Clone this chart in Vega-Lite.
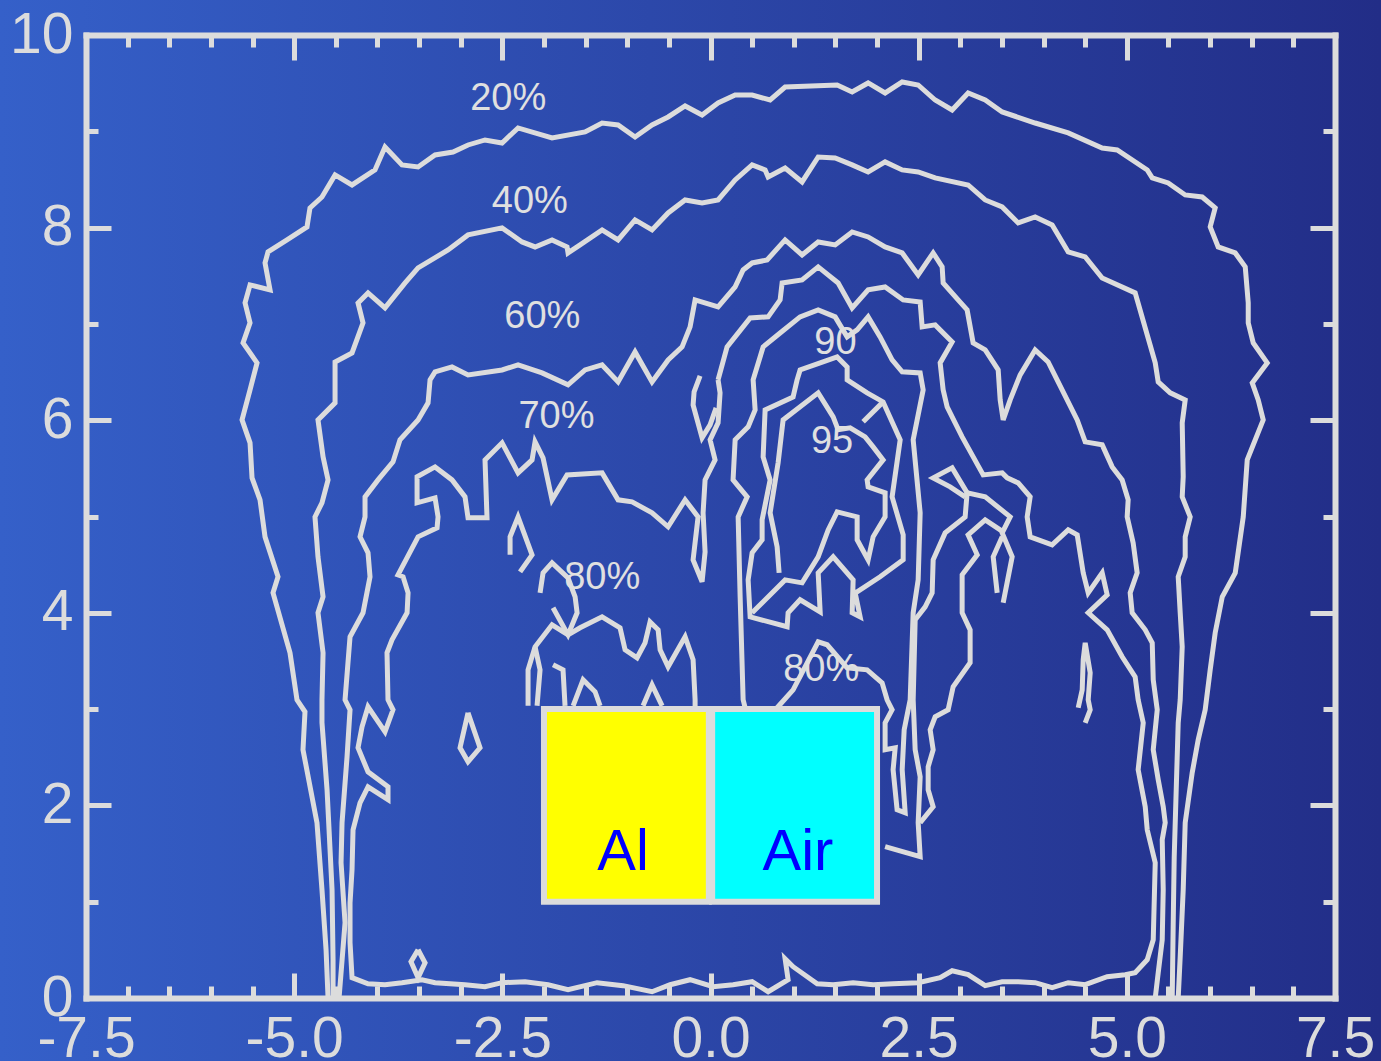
{
"$schema": "https://vega.github.io/schema/vega-lite/v6.json",
"width": 1249, "height": 963,
"autosize": {"type": "none"},
"padding": {"left": 86, "top": 35, "right": 46, "bottom": 63},
"background": "#2b45a8",
"config": {
  "view": {"stroke": null},
  "axis": {"domainColor": "#dcdcdc", "domainWidth": 6, "domainCap": "square", "tickColor": "#dcdcdc", "tickWidth": 5, "labelColor": "#dcdcdc", "labelFont": "Liberation Sans", "labelFontSize": 57, "grid": false, "labelFlush": false, "labelOverlap": false}
},
"datasets": {
  "lines": [
{"c":"p20","x":-4.593,"y":0},{"c":"p20","x":-4.617,"y":0.501},{"c":"p20","x":-4.666,"y":1.124},{"c":"p20","x":-4.726,"y":1.82},{"c":"p20","x":-4.894,"y":2.578},{"c":"p20","x":-4.87,"y":2.972},{"c":"p20","x":-4.966,"y":3.097},{"c":"p20","x":-5.05,"y":3.585},{"c":"p20","x":-5.254,"y":4.207},{"c":"p20","x":-5.194,"y":4.374},{"c":"p20","x":-5.35,"y":4.789},{"c":"p20","x":-5.41,"y":5.173},{"c":"p20","x":-5.506,"y":5.401},{"c":"p20","x":-5.53,"y":5.765},{"c":"p20","x":-5.626,"y":6.003},{"c":"p20","x":-5.53,"y":6.315},{"c":"p20","x":-5.446,"y":6.595},{"c":"p20","x":-5.614,"y":6.803},{"c":"p20","x":-5.53,"y":7.01},{"c":"p20","x":-5.59,"y":7.218},{"c":"p20","x":-5.53,"y":7.405},{"c":"p20","x":-5.29,"y":7.353},{"c":"p20","x":-5.35,"y":7.633},{"c":"p20","x":-5.314,"y":7.747},{"c":"p20","x":-5.086,"y":7.872},{"c":"p20","x":-4.846,"y":8.007},{"c":"p20","x":-4.81,"y":8.204},{"c":"p20","x":-4.666,"y":8.318},{"c":"p20","x":-4.509,"y":8.547},{"c":"p20","x":-4.305,"y":8.443},{"c":"p20","x":-4.029,"y":8.599},{"c":"p20","x":-3.909,"y":8.837},{"c":"p20","x":-3.705,"y":8.651},{"c":"p20","x":-3.512,"y":8.63},{"c":"p20","x":-3.308,"y":8.754},{"c":"p20","x":-3.092,"y":8.785},{"c":"p20","x":-2.912,"y":8.858},{"c":"p20","x":-2.708,"y":8.91},{"c":"p20","x":-2.503,"y":8.879},{"c":"p20","x":-2.311,"y":9.035},{"c":"p20","x":-1.903,"y":8.931},{"c":"p20","x":-1.506,"y":8.993},{"c":"p20","x":-1.302,"y":9.086},{"c":"p20","x":-1.11,"y":9.066},{"c":"p20","x":-0.906,"y":8.941},{"c":"p20","x":-0.702,"y":9.066},{"c":"p20","x":-0.509,"y":9.149},{"c":"p20","x":-0.305,"y":9.263},{"c":"p20","x":-0.101,"y":9.17},{"c":"p20","x":0.091,"y":9.294},{"c":"p20","x":0.296,"y":9.377},{"c":"p20","x":0.5,"y":9.377},{"c":"p20","x":0.716,"y":9.325},{"c":"p20","x":0.896,"y":9.46},{"c":"p20","x":1.521,"y":9.481},{"c":"p20","x":1.701,"y":9.408},{"c":"p20","x":1.893,"y":9.502},{"c":"p20","x":2.097,"y":9.398},{"c":"p20","x":2.302,"y":9.512},{"c":"p20","x":2.494,"y":9.481},{"c":"p20","x":2.698,"y":9.325},{"c":"p20","x":2.902,"y":9.221},{"c":"p20","x":3.094,"y":9.398},{"c":"p20","x":3.299,"y":9.325},{"c":"p20","x":3.503,"y":9.201},{"c":"p20","x":3.899,"y":9.086},{"c":"p20","x":4.296,"y":8.983},{"c":"p20","x":4.704,"y":8.827},{"c":"p20","x":4.884,"y":8.806},{"c":"p20","x":5.245,"y":8.599},{"c":"p20","x":5.305,"y":8.516},{"c":"p20","x":5.497,"y":8.464},{"c":"p20","x":5.701,"y":8.339},{"c":"p20","x":5.905,"y":8.318},{"c":"p20","x":6.061,"y":8.204},{"c":"p20","x":6.001,"y":8.007},{"c":"p20","x":6.097,"y":7.799},{"c":"p20","x":6.302,"y":7.737},{"c":"p20","x":6.422,"y":7.592},{"c":"p20","x":6.458,"y":7.218},{"c":"p20","x":6.458,"y":7.01},{"c":"p20","x":6.518,"y":6.803},{"c":"p20","x":6.686,"y":6.595},{"c":"p20","x":6.506,"y":6.387},{"c":"p20","x":6.578,"y":6.211},{"c":"p20","x":6.638,"y":6.003},{"c":"p20","x":6.446,"y":5.588},{"c":"p20","x":6.398,"y":4.996},{"c":"p20","x":6.302,"y":4.415},{"c":"p20","x":6.146,"y":4.166},{"c":"p20","x":6.061,"y":3.792},{"c":"p20","x":6.001,"y":3.408},{"c":"p20","x":5.941,"y":2.993},{"c":"p20","x":5.857,"y":2.681},{"c":"p20","x":5.785,"y":2.339},{"c":"p20","x":5.701,"y":1.82},{"c":"p20","x":5.677,"y":1.124},{"c":"p20","x":5.641,"y":0.429},{"c":"p20","x":5.617,"y":0},
{"c":"p40","x":-4.533,"y":0},{"c":"p40","x":-4.533,"y":0.398},{"c":"p40","x":-4.545,"y":1.124},{"c":"p40","x":-4.605,"y":2.162},{"c":"p40","x":-4.666,"y":2.858},{"c":"p40","x":-4.666,"y":3.097},{"c":"p40","x":-4.653,"y":3.585},{"c":"p40","x":-4.714,"y":4.0},{"c":"p40","x":-4.653,"y":4.166},{"c":"p40","x":-4.714,"y":4.581},{"c":"p40","x":-4.75,"y":4.996},{"c":"p40","x":-4.666,"y":5.142},{"c":"p40","x":-4.593,"y":5.38},{"c":"p40","x":-4.653,"y":5.619},{"c":"p40","x":-4.714,"y":6.003},{"c":"p40","x":-4.509,"y":6.18},{"c":"p40","x":-4.509,"y":6.605},{"c":"p40","x":-4.305,"y":6.699},{"c":"p40","x":-4.173,"y":7.01},{"c":"p40","x":-4.233,"y":7.218},{"c":"p40","x":-4.113,"y":7.322},{"c":"p40","x":-3.909,"y":7.166},{"c":"p40","x":-3.668,"y":7.425},{"c":"p40","x":-3.512,"y":7.581},{"c":"p40","x":-3.152,"y":7.768},{"c":"p40","x":-2.912,"y":7.924},{"c":"p40","x":-2.503,"y":7.997},{"c":"p40","x":-2.263,"y":7.851},{"c":"p40","x":-2.107,"y":7.799},{"c":"p40","x":-1.903,"y":7.872},{"c":"p40","x":-1.723,"y":7.799},{"c":"p40","x":-1.711,"y":7.737},{"c":"p40","x":-1.566,"y":7.82},{"c":"p40","x":-1.302,"y":7.976},{"c":"p40","x":-1.11,"y":7.872},{"c":"p40","x":-0.906,"y":8.08},{"c":"p40","x":-0.702,"y":7.976},{"c":"p40","x":-0.509,"y":8.152},{"c":"p40","x":-0.305,"y":8.287},{"c":"p40","x":-0.101,"y":8.256},{"c":"p40","x":0.091,"y":8.287},{"c":"p40","x":0.296,"y":8.495},{"c":"p40","x":0.5,"y":8.651},{"c":"p40","x":0.656,"y":8.599},{"c":"p40","x":0.692,"y":8.526},{"c":"p40","x":0.896,"y":8.619},{"c":"p40","x":1.1,"y":8.474},{"c":"p40","x":1.293,"y":8.733},{"c":"p40","x":1.497,"y":8.723},{"c":"p40","x":1.701,"y":8.651},{"c":"p40","x":1.893,"y":8.578},{"c":"p40","x":2.097,"y":8.682},{"c":"p40","x":2.302,"y":8.599},{"c":"p40","x":2.494,"y":8.578},{"c":"p40","x":2.698,"y":8.516},{"c":"p40","x":3.094,"y":8.443},{"c":"p40","x":3.299,"y":8.287},{"c":"p40","x":3.503,"y":8.215},{"c":"p40","x":3.695,"y":8.048},{"c":"p40","x":3.899,"y":8.111},{"c":"p40","x":4.103,"y":8.028},{"c":"p40","x":4.296,"y":7.747},{"c":"p40","x":4.5,"y":7.695},{"c":"p40","x":4.704,"y":7.477},{"c":"p40","x":5.1,"y":7.322},{"c":"p40","x":5.341,"y":6.595},{"c":"p40","x":5.377,"y":6.398},{"c":"p40","x":5.521,"y":6.284},{"c":"p40","x":5.701,"y":6.211},{"c":"p40","x":5.665,"y":5.972},{"c":"p40","x":5.677,"y":5.412},{"c":"p40","x":5.665,"y":5.204},{"c":"p40","x":5.761,"y":4.996},{"c":"p40","x":5.701,"y":4.789},{"c":"p40","x":5.701,"y":4.581},{"c":"p40","x":5.617,"y":4.374},{"c":"p40","x":5.641,"y":4.0},{"c":"p40","x":5.665,"y":3.647},{"c":"p40","x":5.641,"y":3.097},{"c":"p40","x":5.617,"y":2.858},{"c":"p40","x":5.593,"y":2.162},{"c":"p40","x":5.569,"y":1.467},{"c":"p40","x":5.557,"y":0.782},{"c":"p40","x":5.545,"y":0},
{"c":"p60","x":-4.461,"y":0},{"c":"p60","x":-4.389,"y":0.782},{"c":"p60","x":-4.437,"y":1.405},{"c":"p60","x":-4.425,"y":1.82},{"c":"p60","x":-4.365,"y":2.505},{"c":"p60","x":-4.329,"y":2.993},{"c":"p60","x":-4.389,"y":3.097},{"c":"p60","x":-4.329,"y":3.751},{"c":"p60","x":-4.173,"y":4.0},{"c":"p60","x":-4.089,"y":4.374},{"c":"p60","x":-4.113,"y":4.623},{"c":"p60","x":-4.209,"y":4.789},{"c":"p60","x":-4.149,"y":4.996},{"c":"p60","x":-4.149,"y":5.204},{"c":"p60","x":-3.993,"y":5.38},{"c":"p60","x":-3.813,"y":5.567},{"c":"p60","x":-3.729,"y":5.796},{"c":"p60","x":-3.512,"y":6.003},{"c":"p60","x":-3.392,"y":6.18},{"c":"p60","x":-3.368,"y":6.419},{"c":"p60","x":-3.308,"y":6.502},{"c":"p60","x":-3.104,"y":6.553},{"c":"p60","x":-2.912,"y":6.47},{"c":"p60","x":-2.503,"y":6.522},{"c":"p60","x":-2.311,"y":6.574},{"c":"p60","x":-2.023,"y":6.491},{"c":"p60","x":-1.711,"y":6.367},{"c":"p60","x":-1.506,"y":6.522},{"c":"p60","x":-1.302,"y":6.574},{"c":"p60","x":-1.11,"y":6.398},{"c":"p60","x":-0.906,"y":6.709},{"c":"p60","x":-0.702,"y":6.398},{"c":"p60","x":-0.509,"y":6.626},{"c":"p60","x":-0.341,"y":6.761},{"c":"p60","x":-0.245,"y":6.969},{"c":"p60","x":-0.185,"y":7.249},{"c":"p60","x":0.091,"y":7.176},{"c":"p60","x":0.296,"y":7.384},{"c":"p60","x":0.392,"y":7.56},{"c":"p60","x":0.5,"y":7.633},{"c":"p60","x":0.68,"y":7.664},{"c":"p60","x":0.896,"y":7.872},{"c":"p60","x":1.1,"y":7.716},{"c":"p60","x":1.293,"y":7.851},{"c":"p60","x":1.497,"y":7.82},{"c":"p60","x":1.701,"y":7.955},{"c":"p60","x":1.893,"y":7.903},{"c":"p60","x":2.097,"y":7.799},{"c":"p60","x":2.302,"y":7.737},{"c":"p60","x":2.494,"y":7.509},{"c":"p60","x":2.674,"y":7.737},{"c":"p60","x":2.782,"y":7.592},{"c":"p60","x":2.794,"y":7.425},{"c":"p60","x":2.974,"y":7.249},{"c":"p60","x":3.082,"y":7.145},{"c":"p60","x":3.154,"y":6.803},{"c":"p60","x":3.299,"y":6.73},{"c":"p60","x":3.455,"y":6.522},{"c":"p60","x":3.479,"y":6.211},{"c":"p60","x":3.515,"y":6.003},{"c":"p60","x":3.599,"y":6.211},{"c":"p60","x":3.719,"y":6.47},{"c":"p60","x":3.899,"y":6.73},{"c":"p60","x":4.055,"y":6.605},{"c":"p60","x":4.175,"y":6.398},{"c":"p60","x":4.404,"y":6.003},{"c":"p60","x":4.5,"y":5.775},{"c":"p60","x":4.704,"y":5.744},{"c":"p60","x":4.824,"y":5.515},{"c":"p60","x":4.944,"y":5.38},{"c":"p60","x":5.016,"y":5.173},{"c":"p60","x":5.004,"y":4.996},{"c":"p60","x":5.076,"y":4.726},{"c":"p60","x":5.124,"y":4.415},{"c":"p60","x":5.04,"y":4.207},{"c":"p60","x":5.064,"y":4.0},{"c":"p60","x":5.221,"y":3.823},{"c":"p60","x":5.305,"y":3.688},{"c":"p60","x":5.317,"y":3.304},{"c":"p60","x":5.365,"y":2.993},{"c":"p60","x":5.317,"y":2.578},{"c":"p60","x":5.377,"y":2.266},{"c":"p60","x":5.437,"y":1.986},{"c":"p60","x":5.461,"y":1.82},{"c":"p60","x":5.425,"y":1.643},{"c":"p60","x":5.437,"y":1.124},{"c":"p60","x":5.425,"y":0.605},{"c":"p60","x":5.377,"y":0.263},{"c":"p60","x":5.341,"y":0},
{"c":"p70","x":0.091,"y":6.419},{"c":"p70","x":0.199,"y":6.761},{"c":"p70","x":0.476,"y":7.062},{"c":"p70","x":0.692,"y":7.073},{"c":"p70","x":0.836,"y":7.249},{"c":"p70","x":0.86,"y":7.425},{"c":"p70","x":1.1,"y":7.457},{"c":"p70","x":1.293,"y":7.592},{"c":"p70","x":1.533,"y":7.425},{"c":"p70","x":1.701,"y":7.166},{"c":"p70","x":1.893,"y":7.353},{"c":"p70","x":2.097,"y":7.384},{"c":"p70","x":2.314,"y":7.249},{"c":"p70","x":2.518,"y":7.228},{"c":"p70","x":2.542,"y":6.969},{"c":"p70","x":2.698,"y":6.99},{"c":"p70","x":2.902,"y":6.813},{"c":"p70","x":2.758,"y":6.595},{"c":"p70","x":2.794,"y":6.315},{"c":"p70","x":2.842,"y":6.138},{"c":"p70","x":3.022,"y":5.827},{"c":"p70","x":3.275,"y":5.432},{"c":"p70","x":3.503,"y":5.453},{"c":"p70","x":3.563,"y":5.401},{"c":"p70","x":3.695,"y":5.349},{"c":"p70","x":3.839,"y":5.204},{"c":"p70","x":3.803,"y":4.996},{"c":"p70","x":3.839,"y":4.789},{"c":"p70","x":4.103,"y":4.706},{"c":"p70","x":4.296,"y":4.861},{"c":"p70","x":4.404,"y":4.809},{"c":"p70","x":4.476,"y":4.415},{"c":"p70","x":4.536,"y":4.207},{"c":"p70","x":4.704,"y":4.415},{"c":"p70","x":4.764,"y":4.187},{"c":"p70","x":4.536,"y":4.0},{"c":"p70","x":4.764,"y":3.823},{"c":"p70","x":4.944,"y":3.543},{"c":"p70","x":5.1,"y":3.335},{"c":"p70","x":5.136,"y":3.097},{"c":"p70","x":5.197,"y":2.858},{"c":"p70","x":5.136,"y":2.37},{"c":"p70","x":5.221,"y":1.986},{"c":"p70","x":5.245,"y":1.747},{"c":"p70","x":5.341,"y":1.405},{"c":"p70","x":5.317,"y":0.605},{"c":"p70","x":5.245,"y":0.398},{"c":"p70","x":5.1,"y":0.263},{"c":"p70","x":4.98,"y":0.242},{"c":"p70","x":4.764,"y":0.221},{"c":"p70","x":4.5,"y":0.138},{"c":"p70","x":4.296,"y":0.159},{"c":"p70","x":4.103,"y":0.107},{"c":"p70","x":3.899,"y":0.159},{"c":"p70","x":3.695,"y":0.169},{"c":"p70","x":3.503,"y":0.169},{"c":"p70","x":3.299,"y":0.128},{"c":"p70","x":3.094,"y":0.242},{"c":"p70","x":2.902,"y":0.283},{"c":"p70","x":2.758,"y":0.211},{"c":"p70","x":2.494,"y":0.159},{"c":"p70","x":2.193,"y":0.148},{"c":"p70","x":1.953,"y":0.138},{"c":"p70","x":1.713,"y":0.159},{"c":"p70","x":1.473,"y":0.138},{"c":"p70","x":1.281,"y":0.148},{"c":"p70","x":0.992,"y":0.325},{"c":"p70","x":0.896,"y":0.408},{"c":"p70","x":0.932,"y":0.19},{"c":"p70","x":0.692,"y":0.065},{"c":"p70","x":0.5,"y":0.169},{"c":"p70","x":0.271,"y":0.138},{"c":"p70","x":0.031,"y":0.117},{"c":"p70","x":-0.245,"y":0.19},{"c":"p70","x":-0.485,"y":0.138},{"c":"p70","x":-0.702,"y":0.065},{"c":"p70","x":-1.05,"y":0.128},{"c":"p70","x":-1.362,"y":0.159},{"c":"p70","x":-1.711,"y":0.086},{"c":"p70","x":-1.951,"y":0.138},{"c":"p70","x":-2.227,"y":0.169},{"c":"p70","x":-2.503,"y":0.159},{"c":"p70","x":-2.708,"y":0.117},{"c":"p70","x":-2.948,"y":0.138},{"c":"p70","x":-3.308,"y":0.159},{"c":"p70","x":-3.464,"y":0.19},{"c":"p70","x":-3.705,"y":0.159},{"c":"p70","x":-3.909,"y":0.138},{"c":"p70","x":-4.113,"y":0.148},{"c":"p70","x":-4.305,"y":0.211},{"c":"p70","x":-4.329,"y":0.574},{"c":"p70","x":-4.329,"y":0.989},{"c":"p70","x":-4.305,"y":1.332},{"c":"p70","x":-4.293,"y":1.747},{"c":"p70","x":-4.209,"y":2.027},{"c":"p70","x":-4.113,"y":2.193},{"c":"p70","x":-3.873,"y":2.059},{"c":"p70","x":-3.873,"y":2.193},{"c":"p70","x":-4.113,"y":2.349},{"c":"p70","x":-4.233,"y":2.598},{"c":"p70","x":-4.185,"y":2.816},{"c":"p70","x":-4.113,"y":3.024},{"c":"p70","x":-3.909,"y":2.764},{"c":"p70","x":-3.813,"y":2.993},{"c":"p70","x":-3.873,"y":3.097},{"c":"p70","x":-3.885,"y":3.585},{"c":"p70","x":-3.825,"y":3.72},{"c":"p70","x":-3.644,"y":4.0},{"c":"p70","x":-3.632,"y":4.207},{"c":"p70","x":-3.692,"y":4.374},{"c":"p70","x":-3.753,"y":4.394},{"c":"p70","x":-3.512,"y":4.789},{"c":"p70","x":-3.284,"y":4.882},{"c":"p70","x":-3.272,"y":4.996},{"c":"p70","x":-3.308,"y":5.194},{"c":"p70","x":-3.524,"y":5.142},{"c":"p70","x":-3.524,"y":5.412},{"c":"p70","x":-3.308,"y":5.515},{"c":"p70","x":-3.104,"y":5.38},{"c":"p70","x":-2.948,"y":5.204},{"c":"p70","x":-2.912,"y":4.986},{"c":"p70","x":-2.684,"y":4.986},{"c":"p70","x":-2.708,"y":5.588},{"c":"p70","x":-2.503,"y":5.765},{"c":"p70","x":-2.311,"y":5.453},{"c":"p70","x":-2.143,"y":5.588},{"c":"p70","x":-2.107,"y":5.775},{"c":"p70","x":-2.011,"y":5.609},{"c":"p70","x":-1.903,"y":5.173},{"c":"p70","x":-1.723,"y":5.432},{"c":"p70","x":-1.302,"y":5.453},{"c":"p70","x":-1.11,"y":5.173},{"c":"p70","x":-0.942,"y":5.152},{"c":"p70","x":-0.702,"y":5.038},{"c":"p70","x":-0.509,"y":4.893},{"c":"p70","x":-0.305,"y":5.173},{"c":"p70","x":-0.149,"y":4.996},{"c":"p70","x":-0.209,"y":4.55},{"c":"p70","x":-0.101,"y":4.322},{"c":"p70","x":-0.065,"y":4.633},{"c":"p70","x":-0.089,"y":5.038},{"c":"p70","x":-0.065,"y":5.38},{"c":"p70","x":0.055,"y":5.588},{"c":"p70","x":-0.005,"y":5.796},{"c":"p70","x":0.091,"y":5.972},{"c":"p70","x":0.115,"y":6.284},{"c":"p70","x":0.091,"y":6.419},
{"c":"lens2","x":-0.125,"y":6.46},{"c":"lens2","x":-0.197,"y":6.294},{"c":"lens2","x":-0.209,"y":6.159},{"c":"lens2","x":-0.101,"y":5.817},{"c":"lens2","x":-0.005,"y":5.951},{"c":"lens2","x":0.067,"y":6.128},
{"c":"hook","x":-2.407,"y":4.602},{"c":"hook","x":-2.407,"y":4.789},{"c":"hook","x":-2.311,"y":4.996},{"c":"hook","x":-2.143,"y":4.602},{"c":"hook","x":-2.287,"y":4.425},
{"c":"a80","x":-2.047,"y":4.207},{"c":"a80","x":-2.011,"y":4.415},{"c":"a80","x":-1.903,"y":4.519},{"c":"a80","x":-1.711,"y":4.363},{"c":"a80","x":-1.626,"y":4.166},{"c":"a80","x":-1.602,"y":4.0},{"c":"a80","x":-1.711,"y":3.771},{"c":"a80","x":-1.891,"y":4.052},
{"c":"l80","x":-2.191,"y":3.034},{"c":"l80","x":-2.191,"y":3.408},{"c":"l80","x":-2.107,"y":3.647},{"c":"l80","x":-1.903,"y":3.875},{"c":"l80","x":-1.711,"y":3.771},{"c":"l80","x":-1.566,"y":3.844},{"c":"l80","x":-1.302,"y":3.958},{"c":"l80","x":-1.086,"y":3.844},{"c":"l80","x":-1.026,"y":3.616},{"c":"l80","x":-0.882,"y":3.533},{"c":"l80","x":-0.786,"y":3.688},{"c":"l80","x":-0.726,"y":3.906},{"c":"l80","x":-0.629,"y":3.823},{"c":"l80","x":-0.605,"y":3.616},{"c":"l80","x":-0.509,"y":3.439},{"c":"l80","x":-0.305,"y":3.751},{"c":"l80","x":-0.209,"y":3.512},{"c":"l80","x":-0.185,"y":3.097},{"c":"l80","x":-0.185,"y":3.014},
{"c":"s1","x":-2.107,"y":3.647},{"c":"s1","x":-2.047,"y":3.408},{"c":"s1","x":-2.083,"y":3.034},
{"c":"s2","x":-1.891,"y":3.46},{"c":"s2","x":-1.771,"y":3.408},{"c":"s2","x":-1.747,"y":3.034},
{"c":"s3","x":-1.65,"y":3.034},{"c":"s3","x":-1.53,"y":3.304},{"c":"s3","x":-1.386,"y":3.18},{"c":"s3","x":-1.326,"y":3.034},
{"c":"s4","x":-0.81,"y":3.034},{"c":"s4","x":-0.702,"y":3.252},{"c":"s4","x":-0.581,"y":3.034},
{"c":"lens","x":-2.912,"y":2.962},{"c":"lens","x":-3.008,"y":2.598},{"c":"lens","x":-2.912,"y":2.453},{"c":"lens","x":-2.768,"y":2.598},{"c":"lens","x":-2.912,"y":2.962},
{"c":"dia","x":-3.512,"y":0.501},{"c":"dia","x":-3.597,"y":0.377},{"c":"dia","x":-3.512,"y":0.211},{"c":"dia","x":-3.428,"y":0.366},{"c":"dia","x":-3.512,"y":0.501},
{"c":"c80","x":0.416,"y":3.014},{"c":"c80","x":0.392,"y":3.097},{"c":"c80","x":0.356,"y":4.166},{"c":"c80","x":0.332,"y":4.996},{"c":"c80","x":0.44,"y":5.204},{"c":"c80","x":0.271,"y":5.38},{"c":"c80","x":0.296,"y":5.796},{"c":"c80","x":0.452,"y":5.931},{"c":"c80","x":0.536,"y":6.107},{"c":"c80","x":0.512,"y":6.419},{"c":"c80","x":0.632,"y":6.761},{"c":"c80","x":0.836,"y":6.906},{"c":"c80","x":1.076,"y":7.073},{"c":"c80","x":1.293,"y":7.145},{"c":"c80","x":1.497,"y":7.073},{"c":"c80","x":1.641,"y":6.865},{"c":"c80","x":1.761,"y":6.938},{"c":"c80","x":1.893,"y":7.073},{"c":"c80","x":2.037,"y":6.865},{"c":"c80","x":2.181,"y":6.626},{"c":"c80","x":2.302,"y":6.502},{"c":"c80","x":2.518,"y":6.491},{"c":"c80","x":2.554,"y":6.315},{"c":"c80","x":2.434,"y":5.796},{"c":"c80","x":2.518,"y":5.038},{"c":"c80","x":2.494,"y":4.342},{"c":"c80","x":2.434,"y":4.0},{"c":"c80","x":2.398,"y":3.097},{"c":"c80","x":2.326,"y":2.785},{"c":"c80","x":2.302,"y":2.37},{"c":"c80","x":2.338,"y":1.924},{"c":"c80","x":2.241,"y":1.955},{"c":"c80","x":2.193,"y":2.37},{"c":"c80","x":2.218,"y":2.598},{"c":"c80","x":2.097,"y":2.578},{"c":"c80","x":2.097,"y":2.858},{"c":"c80","x":2.181,"y":2.993},{"c":"c80","x":2.121,"y":3.097},{"c":"c80","x":2.061,"y":3.273},{"c":"c80","x":1.881,"y":3.408},{"c":"c80","x":1.641,"y":3.429},{"c":"c80","x":1.401,"y":3.668},{"c":"c80","x":1.293,"y":3.699},{"c":"c80","x":0.992,"y":3.2},{"c":"c80","x":0.8,"y":3.014},
{"c":"c90","x":1.04,"y":6.419},{"c":"c90","x":1.076,"y":6.522},{"c":"c90","x":1.317,"y":6.595},{"c":"c90","x":1.521,"y":6.657},{"c":"c90","x":1.641,"y":6.553},{"c":"c90","x":1.641,"y":6.419},{"c":"c90","x":1.881,"y":6.284},{"c":"c90","x":2.073,"y":6.19},{"c":"c90","x":2.278,"y":5.796},{"c":"c90","x":2.181,"y":5.204},{"c":"c90","x":2.314,"y":4.809},{"c":"c90","x":2.314,"y":4.55},{"c":"c90","x":2.037,"y":4.374},{"c":"c90","x":1.761,"y":4.218},{"c":"c90","x":1.737,"y":4.207},{"c":"c90","x":1.797,"y":3.958},{"c":"c90","x":1.701,"y":4.0},{"c":"c90","x":1.713,"y":4.342},{"c":"c90","x":1.473,"y":4.581},{"c":"c90","x":1.293,"y":4.415},{"c":"c90","x":1.317,"y":4.01},{"c":"c90","x":1.076,"y":4.135},{"c":"c90","x":0.932,"y":4.0},{"c":"c90","x":0.92,"y":3.855},{"c":"c90","x":0.476,"y":3.958},{"c":"c90","x":0.452,"y":4.342},{"c":"c90","x":0.5,"y":4.623},{"c":"c90","x":0.62,"y":4.758},{"c":"c90","x":0.62,"y":4.965},{"c":"c90","x":0.716,"y":5.38},{"c":"c90","x":0.632,"y":5.619},{"c":"c90","x":0.656,"y":6.107},{"c":"c90","x":0.992,"y":6.242},{"c":"c90","x":1.04,"y":6.419},
{"c":"c95","x":0.824,"y":4.415},{"c":"c95","x":0.8,"y":4.685},{"c":"c95","x":0.716,"y":5.038},{"c":"c95","x":0.812,"y":5.557},{"c":"c95","x":0.872,"y":6.003},{"c":"c95","x":1.293,"y":6.284},{"c":"c95","x":1.473,"y":6.035},{"c":"c95","x":1.533,"y":5.9},{"c":"c95","x":1.677,"y":5.92},{"c":"c95","x":1.857,"y":5.827},{"c":"c95","x":1.953,"y":5.723},{"c":"c95","x":2.073,"y":5.588},{"c":"c95","x":1.881,"y":5.38},{"c":"c95","x":1.893,"y":5.308},{"c":"c95","x":2.097,"y":5.246},{"c":"c95","x":2.097,"y":4.996},{"c":"c95","x":1.953,"y":4.789},{"c":"c95","x":1.893,"y":4.55},{"c":"c95","x":1.761,"y":4.758},{"c":"c95","x":1.761,"y":4.996},{"c":"c95","x":1.521,"y":5.048},{"c":"c95","x":1.413,"y":4.861},{"c":"c95","x":1.293,"y":4.581},{"c":"c95","x":1.1,"y":4.311},{"c":"c95","x":0.896,"y":4.342},{"c":"c95","x":0.5,"y":4.0},
{"c":"spur","x":1.833,"y":5.983},{"c":"spur","x":2.061,"y":6.18},
{"c":"f80","x":2.097,"y":1.571},{"c":"f80","x":2.518,"y":1.467},{"c":"f80","x":2.494,"y":1.82},{"c":"f80","x":2.518,"y":2.297},{"c":"f80","x":2.458,"y":2.578},{"c":"f80","x":2.434,"y":3.097},{"c":"f80","x":2.458,"y":3.927},{"c":"f80","x":2.578,"y":4.062},{"c":"f80","x":2.662,"y":4.207},{"c":"f80","x":2.674,"y":4.55},{"c":"f80","x":2.818,"y":4.83},{"c":"f80","x":3.058,"y":4.996},{"c":"f80","x":3.082,"y":5.246},{"c":"f80","x":3.299,"y":5.204},{"c":"f80","x":3.599,"y":4.996},{"c":"f80","x":3.503,"y":4.83},{"c":"f80","x":3.623,"y":4.581},{"c":"f80","x":3.515,"y":4.104},
{"c":"w80","x":3.058,"y":5.204},{"c":"w80","x":2.878,"y":5.308},{"c":"w80","x":2.674,"y":5.401},{"c":"w80","x":2.902,"y":5.505},{"c":"w80","x":3.082,"y":5.246},
{"c":"g80","x":3.515,"y":4.841},{"c":"g80","x":3.299,"y":4.965},{"c":"g80","x":3.094,"y":4.809},{"c":"g80","x":3.203,"y":4.602},{"c":"g80","x":3.022,"y":4.394},{"c":"g80","x":3.022,"y":4.0},{"c":"g80","x":3.118,"y":3.823},{"c":"g80","x":3.118,"y":3.481},{"c":"g80","x":2.914,"y":3.232},{"c":"g80","x":2.854,"y":2.993},{"c":"g80","x":2.698,"y":2.92},{"c":"g80","x":2.638,"y":2.785},{"c":"g80","x":2.674,"y":2.578},{"c":"g80","x":2.614,"y":2.401},{"c":"g80","x":2.614,"y":2.162},{"c":"g80","x":2.674,"y":1.986},{"c":"g80","x":2.518,"y":1.82},
{"c":"sp","x":3.443,"y":4.207},{"c":"sp","x":3.395,"y":4.581},{"c":"sp","x":3.503,"y":4.789},
{"c":"rs","x":4.416,"y":3.014},{"c":"rs","x":4.464,"y":3.2},{"c":"rs","x":4.476,"y":3.512},{"c":"rs","x":4.5,"y":3.688},{"c":"rs","x":4.56,"y":3.377},{"c":"rs","x":4.536,"y":3.097},{"c":"rs","x":4.56,"y":2.993},{"c":"rs","x":4.5,"y":2.858}
  ],
  "labels": [
    {"t":"20%","x":-2.43,"y":9.34},{"t":"40%","x":-2.17,"y":8.27},{"t":"60%","x":-2.02,"y":7.07},{"t":"70%","x":-1.85,"y":6.03},{"t":"80%","x":-1.3,"y":4.36},{"t":"80%","x":1.33,"y":3.41},{"t":"90","x":1.5,"y":6.8},{"t":"95","x":1.46,"y":5.77}
  ],
  "boxes": [
    {"m":"Al","x":-2,"x2":-0.02,"y":1,"y2":3,"tx":-1.05,"ty":1.33},
    {"m":"Air","x":0.02,"x2":2,"y":1,"y2":3,"tx":1.05,"ty":1.33}
  ]
},
"resolve": {"axis": {"x": "independent", "y": "independent"}},
"layer": [
  {
    "data": {"values": [{}]},
    "mark": {"type": "rect", "fill": {"gradient": "linear", "x1": 0, "y1": 0, "x2": 1, "y2": 0, "stops": [{"offset": 0, "color": "#3560c9"}, {"offset": 1, "color": "#222d87"}]}},
    "encoding": {"x": {"value": -86}, "x2": {"value": 1295}, "y": {"value": -35}, "y2": {"value": 1026}}
  },
  {
    "data": {"name": "lines"},
    "mark": {"type": "line", "color": "#dcdcdc", "strokeWidth": 5, "strokeJoin": "miter"},
    "encoding": {
      "x": {"field": "x", "type": "quantitative", "scale": {"domain": [-7.5, 7.5], "nice": false, "zero": false},
        "axis": {"orient": "bottom", "title": null, "zindex": 1, "values": [-7.5,-7,-6.5,-6,-5.5,-5,-4.5,-4,-3.5,-3,-2.5,-2,-1.5,-1,-0.5,0,0.5,1,1.5,2,2.5,3,3.5,4,4.5,5,5.5,6,6.5,7,7.5],
          "tickSize": {"condition": {"test": "datum.value % 2.5 === 0", "value": -25}, "value": -12},
          "labelExpr": "datum.value % 2.5 === 0 ? (datum.value < 0 ? '-' : '') + format(abs(datum.value), '.1f') : ''",
          "labelPadding": 38}},
      "y": {"field": "y", "type": "quantitative", "scale": {"domain": [0, 10], "nice": false, "zero": false},
        "axis": {"orient": "left", "title": null, "zindex": 1, "values": [0,1,2,3,4,5,6,7,8,9,10],
          "tickSize": {"condition": {"test": "datum.value % 2 === 0", "value": -25}, "value": -12},
          "labelExpr": "datum.value % 2 === 0 ? toString(datum.value) : ''",
          "labelPadding": 38}},
      "detail": {"field": "c"},
      "order": {"value": null}
    }
  },
  {
    "data": {"name": "labels"},
    "mark": {"type": "text", "color": "#e0e0e0", "font": "Liberation Sans", "fontSize": 38, "align": "center", "baseline": "middle"},
    "encoding": {
      "x": {"field": "x", "type": "quantitative",
        "axis": {"orient": "top", "title": null, "zindex": 1, "labels": false, "values": [-7.5,-7,-6.5,-6,-5.5,-5,-4.5,-4,-3.5,-3,-2.5,-2,-1.5,-1,-0.5,0,0.5,1,1.5,2,2.5,3,3.5,4,4.5,5,5.5,6,6.5,7,7.5],
          "tickSize": {"condition": {"test": "datum.value % 2.5 === 0", "value": -25}, "value": -12}}},
      "y": {"field": "y", "type": "quantitative",
        "axis": {"orient": "right", "title": null, "zindex": 1, "labels": false, "values": [0,1,2,3,4,5,6,7,8,9,10],
          "tickSize": {"condition": {"test": "datum.value % 2 === 0", "value": -25}, "value": -12}}},
      "text": {"field": "t"}
    }
  },
  {
    "data": {"name": "boxes"},
    "mark": {"type": "rect", "stroke": "#dcdcdc", "strokeWidth": 6},
    "encoding": {
      "x": {"field": "x", "type": "quantitative", "axis": null},
      "x2": {"field": "x2"},
      "y": {"field": "y", "type": "quantitative", "axis": null},
      "y2": {"field": "y2"},
      "fill": {"field": "m", "type": "nominal", "scale": {"domain": ["Al", "Air"], "range": ["#ffff00", "#00ffff"]}, "legend": null}
    }
  },
  {
    "data": {"name": "boxes"},
    "mark": {"type": "text", "color": "#0000ff", "font": "Liberation Sans", "fontSize": 58, "align": "center", "baseline": "alphabetic"},
    "encoding": {
      "x": {"field": "tx", "type": "quantitative", "axis": null},
      "y": {"field": "ty", "type": "quantitative", "axis": null},
      "text": {"field": "m"}
    }
  }
]
}
